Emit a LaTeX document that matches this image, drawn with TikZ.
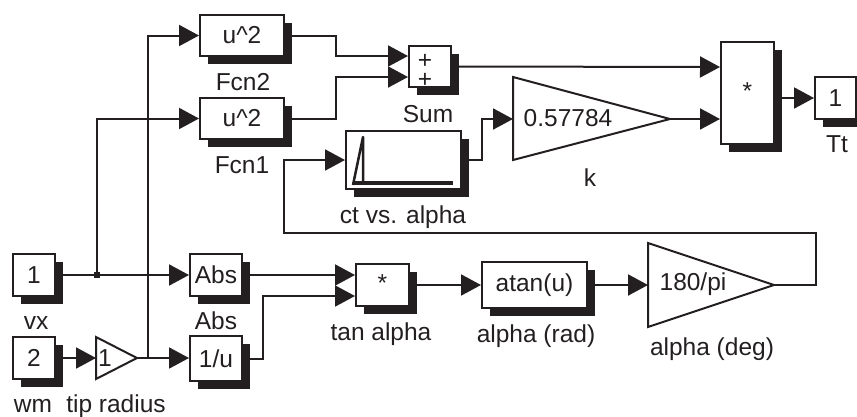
\documentclass[tikz,border=0pt]{standalone}
\usepackage{fontspec}
\setmainfont{Liberation Sans}
\usetikzlibrary{arrows.meta,shadows}
\definecolor{ink}{HTML}{231F20}
\tikzset{
  txt/.style={font=\fontsize{24.5}{28}\selectfont,text=ink},
  lbl/.style={txt,anchor=base,inner sep=0pt},
  blk/.style={txt,draw=ink,line width=2pt,fill=white,inner sep=0pt,rectangle,
    minimum width=#1,
    drop shadow={shadow xshift=8pt,shadow yshift=-8pt,opacity=1,fill=ink}},
  gainblk/.style={draw=ink,line width=2pt,fill=white,line join=miter},
  wire/.style={draw=ink,line width=2pt},
  arr/.style={wire,-{Triangle[length=20pt,width=21pt,fill=ink]}},
  plotline/.style={draw=ink,line join=round}
}
\begin{document}
\begin{tikzpicture}[x=1pt,y=-1pt]
\clip (0,0) rectangle (857,416);
% inports / outports
\node[blk=42pt,minimum height=42pt] (vx) at (34,275) {1};
\node[blk=42pt,minimum height=42pt] (wm) at (34,358) {2};
\node[blk=41pt,minimum height=42pt] (tt) at (835.5,98) {1};
% function blocks
\node[blk=52pt,minimum height=42pt] (abs) at (216,275) {Abs};
\node[blk=52pt,minimum height=45pt] (inv) at (216,358.5) {1/u};
\node[blk=84pt,minimum height=41pt] (fcntwo) at (242,35.5) {u\textasciicircum 2};
\node[blk=84pt,minimum height=41pt] (fcnone) at (242,118.5) {u\textasciicircum 2};
\node[blk=42pt,minimum height=41pt] (sum) at (430,66.5) {};
\node[lbl,anchor=center,align=center,font=\fontsize{24.5}{19}\selectfont] (plus) at (425,71) {+\\+};
\node[blk=115pt,minimum height=58pt] (scope) at (403.5,160) {};
\node[blk=53pt,minimum height=102pt] (prod) at (747.5,93) {\raisebox{3pt}{*}};
\node[blk=53pt,minimum height=42pt] (tan) at (382.5,285) {\raisebox{3pt}{*}};
\node[blk=105pt,minimum height=46pt] (atan) at (534.5,285) {atan(u)};
% gains
\coordinate (tipin) at (96,358);
\coordinate (tipout) at (137,358);
\draw[gainblk] (96,337) -- (tipout) -- (96,379) -- cycle;
\node[txt,inner sep=0pt] (tiptxt) at (105,358) {1};
\coordinate (kin) at (513,119);
\coordinate (kout) at (670,119);
\draw[gainblk] (513,77) -- (kout) -- (513,160) -- cycle;
\node[txt,inner sep=0pt] (ktxt) at (568,118) {0.57784};
\coordinate (degin) at (648,285);
\coordinate (degout) at (774,285);
\draw[gainblk] (648,243) -- (degout) -- (648,327) -- cycle;
\node[txt,inner sep=0pt] (degtxt) at (693,284) {180/pi};
% scope trace
\coordinate (pa) at (353,185);
\coordinate (pb) at (363,137);
\coordinate (pc) at (363,183);
\coordinate (pd) at (453,183);
\draw[plotline,line width=2.5pt] (pa) -- (pb) -- (pc);
\draw[plotline,line width=3.5pt] (pa |- pd) -- (pd);
% ports
\coordinate (suma) at (sum.west |- 0,56);
\coordinate (sumb) at (sum.west |- 0,77);
\coordinate (proda) at (prod.west |- 0,67);
\coordinate (prodb) at (prod.west |- 0,119);
\coordinate (tana) at (tan.west |- 0,275);
\coordinate (tanb) at (tan.west |- 0,296);
\coordinate (jn) at (97,275);
\coordinate (busa) at (148,358);
% wires
\draw[arr] (vx.east) -- (abs.west);
\draw[arr] (wm.east) -- (tipin);
\draw[arr] (tipout) -- (inv.west |- tipout);
\draw[arr] (jn) |- (fcnone.west);
\draw[arr] (busa) |- (fcntwo.west);
\draw[arr] (fcntwo.east) -- (336,35.5) |- (suma);
\draw[arr] (fcnone.east) -- (336,118.5) |- (sumb);
\draw[arr] (sum.east) -- (proda);
\draw[arr] (scope.east) -- (482,160) |- (kin);
\draw[arr] (kout) -- (prodb);
\draw[arr] (prod.east |- tt.west) -- (tt.west);
\draw[arr] (abs.east) -- (tana);
\draw[arr] (inv.east) -- (263,358.5) |- (tanb);
\draw[arr] (tan.east) -- (atan.west);
\draw[arr] (atan.east) -- (degin);
\draw[arr] (degout) -- (816,285) |- (284,233) |- (scope.west);
\fill[ink] (jn) ++(-2.8,-2.8) rectangle ++(5.6,5.6);
% labels
\node[lbl] (lvx) at (36,329) {vx};
\node[lbl] (lwm) at (33,412) {wm};
\node[lbl] (ltip) at (116,412) {tip radius};
\node[lbl] (labs) at (216,329) {Abs};
\node[lbl] (lfa) at (243,90) {Fcn2};
\node[lbl] (lfb) at (242,173) {Fcn1};
\node[lbl] (lsum) at (428,122) {Sum};
\node[lbl] (lk) at (590,186) {k};
\node[lbl] (lct) at (403,223) {ct vs. alpha};
\node[lbl] (ltan) at (381,340) {tan alpha};
\node[lbl] (lrad) at (536,342) {alpha (rad)};
\node[lbl] (ldeg) at (712,355) {alpha (deg)};
\node[lbl] (ltt) at (837,152) {Tt};
\end{tikzpicture}
\end{document}
